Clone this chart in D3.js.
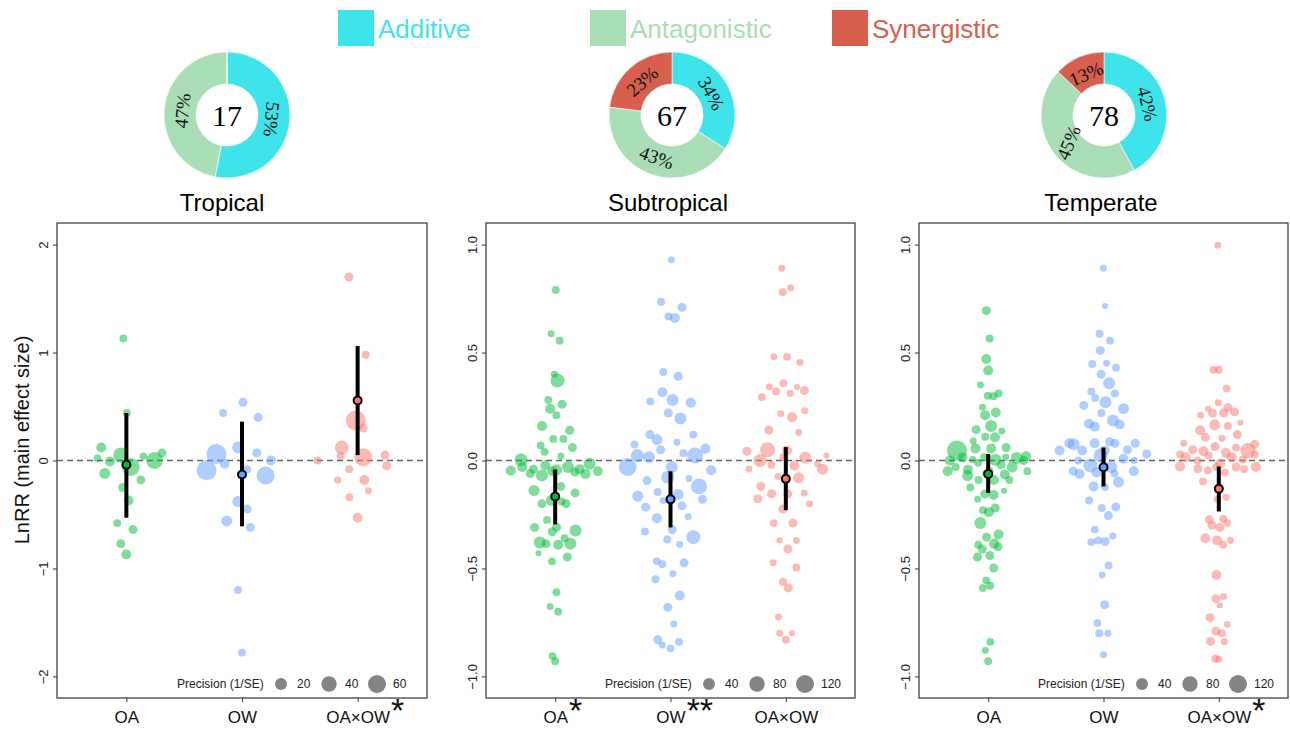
<!DOCTYPE html>
<html>
<head>
<meta charset="utf-8">
<script src="https://cdn.jsdelivr.net/npm/d3@7"></script>
<style>
  body { margin: 0; background: #fff; }
  svg { font-family: "Liberation Sans", Arial, Helvetica, sans-serif; }
</style>
</head>
<body>
<svg id="chart" width="1290" height="729"></svg>
<script>
// ---- data ----
const categories = ["OA", "OW", "OA×OW"];
const regions = ["Tropical", "Subtropical", "Temperate"];
const interactionTypes = ["Additive", "Antagonistic", "Synergistic"];
const studyCounts = [17, 67, 78];

const tropicalShares = [53, 47, 0];
const subtropicalShares = [34, 43, 23];
const temperateShares = [42, 45, 13];

const tropicalTicks = [-2, -1, 0, 1, 2];
const subtropicalTicks = [-1, -0.5, 0, 0.5, 1];
const temperateTicks = [-1, -0.5, 0, 0.5, 1];

const tropicalLegend = [20, 40, 60];
const subtropicalLegend = [40, 80, 120];
const temperateLegend = [40, 80, 120];

const tropicalStars = ["", "", "*"];
const subtropicalStars = ["*", "**", ""];
const temperateStars = ["", "", "*"];

// mean and 95% CI per category
const tropicalMeans = [-0.04, -0.13, 0.555];
const tropicalLow = [-0.53, -0.61, 0.05];
const tropicalHigh = [0.44, 0.36, 1.06];
const subtropicalMeans = [-0.167, -0.18, -0.085];
const subtropicalLow = [-0.296, -0.31, -0.23];
const subtropicalHigh = [-0.042, -0.05, 0.062];
const temperateMeans = [-0.062, -0.031, -0.131];
const temperateLow = [-0.15, -0.12, -0.236];
const temperateHigh = [0.03, 0.06, -0.028];

// individual effect sizes: [LnRR, precision (1/SE)]
const tropicalOA = [[1.13,5],[0.44,5],[0.02,5],[0.0,50],[0.07,8],[-0.06,60],[0.05,38],[0.12,11],[-0.01,11],[0.04,4],
  [-0.12,15],[-0.18,8],[-0.25,8],[-0.37,11],[-0.58,5],[-0.64,8],[-0.77,8],[-0.87,11]];
const tropicalOW = [[0.44,5],[0.54,8],[0.40,8],[0.12,20],[0.06,78],[0.07,8],[-0.03,11],[-0.09,78],[-0.08,5],[0.0,11],
  [-0.14,60],[-0.38,15],[-0.45,8],[-0.56,15],[-0.62,8],[-1.20,5],[-1.78,5]];
const tropicalOAOW = [[1.70,8],[0.98,5],[0.37,78],[0.30,8],[0.12,30],[0.04,5],[0.03,60],[0.05,8],[0.0,5],[-0.05,8],
  [-0.08,5],[-0.18,4],[-0.18,11],[-0.28,3],[-0.34,5],[-0.53,11]];

const subtropicalOA = [[0.79,10],[0.587,6],[0.555,10],[0.37,62],[0.40,6],[0.26,16],[0.28,10],[0.24,23],[0.21,10],[0.16,23],
  [0.14,16],[0.10,10],[0.10,10],[0.06,16],[0.07,10],[0.04,10],[0.02,6],
  [-0.046,23],[-0.062,23],[-0.043,31],[-0.05,23],[-0.03,23],[-0.04,16],[-0.054,16],[-0.04,23],[-0.023,23],[-0.015,40],
  [0.003,50],[-0.03,40],[-0.07,40],[-0.06,16],[-0.05,23],
  [-0.139,31],[-0.12,16],[-0.15,16],[-0.185,31],[-0.2,16],[-0.2,16],[-0.19,10],[-0.275,10],[-0.324,40],[-0.31,16],
  [-0.31,16],[-0.33,16],[-0.385,16],[-0.39,23],[-0.385,40],[-0.38,40],[-0.36,10],[-0.43,3],[-0.447,16],[-0.467,10],
  [-0.61,10],[-0.676,6],[-0.70,10],[-0.906,10],[-0.93,10]];
const subtropicalOW = [[0.93,6],[0.735,10],[0.71,16],[0.667,10],[0.66,23],[0.41,10],[0.39,16],[0.316,23],[0.273,10],[0.268,23],
  [0.28,40],[0.22,16],[0.194,40],[0.12,10],[0.12,16],[0.097,31],[0.074,10],[0.085,6],[0.05,16],[0.034,10],
  [0.015,40],[0.023,88],[0.023,50],[-0.03,120],[-0.03,40],[-0.045,23],[-0.077,50],[0.055,23],[-0.083,6],[-0.093,16],
  [-0.12,88],[-0.157,31],[-0.165,31],[-0.146,10],[-0.18,16],[-0.185,6],[-0.21,16],[-0.216,16],[-0.267,23],[-0.26,6],
  [-0.32,16],[-0.329,10],[-0.355,62],[-0.366,10],[-0.389,6],[-0.466,10],[-0.48,10],[-0.474,16],[-0.525,6],[-0.55,10],
  [-0.625,23],[-0.68,16],[-0.757,6],[-0.83,16],[-0.855,6],[-0.87,10],[-0.84,10]];
const subtropicalOAOW = [[0.89,6],[0.80,6],[0.78,10],[0.48,6],[0.48,10],[0.454,6],[0.358,10],[0.34,6],[0.34,3],[0.31,6],
  [0.324,16],[0.32,10],[0.293,10],[0.23,6],[0.216,6],[0.20,23],[0.13,6],[0.14,16],[0.046,23],[0.05,75],
  [0.043,16],[0.023,3],[0.013,40],[0.015,10],[0.0,50],[-0.023,23],[-0.02,10],[-0.039,6],[-0.04,31],[-0.074,6],
  [-0.015,6],[-0.08,31],[-0.12,16],[-0.15,6],[-0.155,16],[-0.154,16],[-0.177,16],[-0.2,6],[-0.225,16],[-0.29,10],
  [-0.29,16],[-0.37,3],[-0.37,6],[-0.41,16],[-0.474,6],[-0.495,10],[-0.563,10],[-0.59,16],[-0.725,6],[-0.8,6],
  [-0.8,3],[-0.83,10]];

const temperateOA = [[0.694,16],[0.565,10],[0.47,23],[0.417,23],[0.35,6],[0.31,10],[0.298,10],[0.30,10],[0.247,6],[0.222,23],
  [0.21,23],[0.143,16],[0.16,40],[0.137,6],[0.11,10],[0.108,23],[0.09,6],[0.056,23],[0.06,16],[0.056,23],
  [0.046,156],[0.015,6],[0.014,23],[0.005,6],[0.015,10],[0.003,40],[0.012,40],[0.0,16],[0.02,23],[-0.02,16],
  [0.0,23],[-0.03,31],[-0.03,10],[-0.05,10],[-0.05,23],[-0.05,10],[-0.06,6],[-0.09,23],[-0.09,10],[-0.043,23],
  [-0.065,23],[-0.07,31],[-0.01,10],[-0.09,10],[-0.14,3],[-0.125,10],[-0.16,23],[-0.155,16],[-0.18,6],[-0.22,16],
  [-0.23,10],[-0.24,23],[-0.29,40],[-0.343,23],[-0.355,16],[-0.40,16],[-0.385,23],[-0.39,10],[-0.41,16],[-0.447,16],
  [-0.44,16],[-0.498,16],[-0.555,10],[-0.58,10],[-0.59,10],[-0.84,10],[-0.88,6],[-0.93,10]];
const temperateOW = [[0.89,6],[0.716,3],[0.587,10],[0.555,10],[0.51,16],[0.447,10],[0.43,10],[0.45,6],[0.40,16],[0.358,40],
  [0.32,10],[0.31,10],[0.29,10],[0.27,40],[0.24,31],[0.255,16],[0.22,10],[0.185,40],[0.157,23],[0.17,23],
  [0.167,23],[0.08,16],[0.075,40],[0.08,23],[0.087,16],[0.08,16],[0.08,23],[0.046,23],[0.046,23],[0.05,16],
  [0.046,23],[0.008,23],[0.023,62],[0.03,16],[0.0,6],[0.0,10],[-0.023,62],[-0.03,40],[-0.05,23],[-0.062,23],
  [-0.1,31],[-0.055,23],[-0.05,16],[-0.06,10],[-0.123,10],[-0.12,23],[-0.185,10],[-0.22,10],[-0.215,16],[-0.255,16],
  [-0.32,10],[-0.35,6],[-0.378,10],[-0.375,16],[-0.37,10],[-0.486,10],[-0.53,6],[-0.668,16],[-0.753,10],[-0.8,10],
  [-0.8,6],[-0.9,6]];
const temperateOAOW = [[0.997,6],[0.42,10],[0.42,10],[0.333,10],[0.267,6],[0.245,16],[0.24,3],[0.22,16],[0.225,16],[0.22,16],
  [0.21,6],[0.165,31],[0.175,3],[0.16,10],[0.14,23],[0.12,16],[0.108,16],[0.103,6],[0.08,6],[0.065,16],
  [0.06,10],[0.075,16],[0.046,75],[0.05,16],[0.043,23],[0.028,10],[0.036,23],[0.028,10],[0.023,10],[0.015,23],
  [0.015,23],[0.005,10],[-0.028,23],[0.0,10],[-0.04,10],[-0.015,23],[-0.03,16],[-0.03,10],[-0.03,23],[-0.046,10],
  [-0.038,16],[-0.056,10],[-0.097,10],[-0.17,6],[-0.18,6],[-0.274,16],[-0.31,16],[-0.27,10],[-0.29,10],[-0.3,16],
  [-0.37,23],[-0.36,23],[-0.37,6],[-0.39,10],[-0.53,23],[-0.64,16],[-0.63,6],[-0.67,3],[-0.728,16],[-0.76,6],
  [-0.79,16],[-0.8,10],[-0.838,16],[-0.84,6],[-0.918,10],[-0.92,6]];

// ---- setup ----
const catColors = ["#00BA38", "#619CFF", "#F8766D"];
const typeColors = ["#3FE4EA", "#A8DDB5", "#D6604D"];

const panels = [
  {points: [tropicalOA, tropicalOW, tropicalOAOW], means: tropicalMeans, lo: tropicalLow, hi: tropicalHigh,
   stars: tropicalStars, ticks: tropicalTicks, domain: [-2.2, 2.2], legend: tropicalLegend, shares: tropicalShares, fmt: d3.format("d")},
  {points: [subtropicalOA, subtropicalOW, subtropicalOAOW], means: subtropicalMeans, lo: subtropicalLow, hi: subtropicalHigh,
   stars: subtropicalStars, ticks: subtropicalTicks, domain: [-1.1, 1.1], legend: subtropicalLegend, shares: subtropicalShares, fmt: d3.format(".1f")},
  {points: [temperateOA, temperateOW, temperateOAOW], means: temperateMeans, lo: temperateLow, hi: temperateHigh,
   stars: temperateStars, ticks: temperateTicks, domain: [-1.1, 1.1], legend: temperateLegend, shares: temperateShares, fmt: d3.format(".1f")}
];

const layout = [
  {left: 57, right: 427, titleX: 222, donutX: 227},
  {left: 486, right: 855, titleX: 668, donutX: 672},
  {left: 919, right: 1288, titleX: 1101, donutX: 1104}
];
const plotTop = 223, plotBottom = 698, donutY = 115;

const svg = d3.select("#chart");

// top legend
const legX = [338, 590, 832];
interactionTypes.forEach((t, i) => {
  svg.append("rect").attr("x", legX[i]).attr("y", 10).attr("width", 36).attr("height", 36).attr("fill", typeColors[i]);
  svg.append("text").attr("x", legX[i] + 40).attr("y", 38).attr("font-size", 26)
    .attr("fill", typeColors[i]).text(t);
});

// y label
svg.append("text")
  .attr("transform", "translate(29,440) rotate(-90)")
  .attr("text-anchor", "middle").attr("font-size", 20).attr("fill", "#111")
  .text("LnRR (main effect size)");

function labelAngle(a) {
  // tangent orientation, flipped so the labels stay readable
  if (a > 180 && a < 215) return a - 180;
  if (a >= 215 && a < 250) return a - 300;
  if (a >= 250) return a - 360;
  return a;
}

// quasirandom spread (van der Corput sequence scaled by a kernel density),
// same idea as ggbeeswarm::geom_quasirandom
function vdc(k) {
  let v = 0, denom = 1;
  while (k > 0) { denom *= 2; v += (k % 2) / denom; k = Math.floor(k / 2); }
  return v;
}
function quasiOffsets(vals) {
  const n = vals.length;
  const sorted = vals.slice().sort(d3.ascending);
  const sd = d3.deviation(vals);
  const iqr = d3.quantile(sorted, 0.75) - d3.quantile(sorted, 0.25);
  let bw = 0.9 * Math.min(sd, iqr / 1.34 || sd) * Math.pow(n, -0.2) * 0.5;
  const dens = vals.map(v => d3.sum(vals, w => Math.exp(-0.5 * ((v - w) / bw) ** 2)));
  const maxD = d3.max(dens);
  const order = d3.range(n).sort((a, b) => vals[a] - vals[b]);
  const rank = new Array(n);
  order.forEach((idx, r) => rank[idx] = r + 1);
  return vals.map((v, i) => (vdc(rank[i]) - 0.5) * 2 * dens[i] / maxD);
}

panels.forEach((p, pi) => {
  const L = layout[pi];
  const g = svg.append("g");

  const x = d3.scalePoint().domain(categories).range([L.left, L.right]).padding(0.6);
  const y = d3.scaleLinear().domain(p.domain).range([plotBottom, plotTop]);
  const size = d3.scaleSqrt().domain([p.legend[0], p.legend[2]]).range([6, 9]);
  const halfWidth = 0.4 * x.step();

  // title
  g.append("text").attr("x", L.titleX).attr("y", 211).attr("text-anchor", "middle")
    .attr("font-size", 24).attr("fill", "#000").text(regions[pi]);

  // donut
  const pie = d3.pie().sort(null).value(d => d)(p.shares);
  const arc = d3.arc().innerRadius(31).outerRadius(63);
  const labelArc = d3.arc().innerRadius(45).outerRadius(45);
  const dg = g.append("g").attr("transform", `translate(${L.donutX},${donutY})`);
  dg.selectAll("path").data(pie).enter().append("path")
    .attr("d", arc).attr("fill", (d, i) => typeColors[i]).attr("stroke", "#fff").attr("stroke-width", 0.6);
  dg.selectAll("text.pct").data(pie.filter(d => d.value > 0)).enter().append("text")
    .attr("class", "pct")
    .attr("transform", d => {
      const c = labelArc.centroid(d);
      const a = (d.startAngle + d.endAngle) / 2 * 180 / Math.PI;
      return `translate(${c[0]},${c[1]}) rotate(${labelAngle(a)})`;
    })
    .attr("text-anchor", "middle").attr("dy", "0.35em")
    .style("font-family", "'Liberation Serif', 'Times New Roman', serif")
    .attr("font-size", 19).attr("fill", "#111")
    .text(d => d.value + "%");
  dg.append("text").attr("text-anchor", "middle").attr("dy", "0.35em")
    .style("font-family", "'Liberation Serif', 'Times New Roman', serif")
    .attr("font-size", 30).attr("fill", "#000").text(studyCounts[pi]);

  // axes
  const ya = g.append("g").attr("transform", `translate(${L.left},0)`)
    .call(d3.axisLeft(y).tickValues(p.ticks).tickSize(4).tickFormat(p.fmt));
  ya.select(".domain").remove();
  ya.selectAll(".tick line").attr("stroke", "#333");
  ya.selectAll(".tick text")
    .attr("transform", "rotate(-90)").attr("x", 0).attr("y", -9).attr("dy", 0)
    .style("text-anchor", "middle").attr("font-size", 13).attr("fill", "#222")
    .style("font-family", "'Liberation Sans', Arial, sans-serif");

  const xa = g.append("g").attr("transform", `translate(0,${plotBottom})`)
    .call(d3.axisBottom(x).tickSize(4));
  xa.select(".domain").remove();
  xa.selectAll(".tick line").attr("stroke", "#333");
  xa.selectAll(".tick text").attr("y", 25).attr("dy", 0).attr("font-size", 17).attr("fill", "#111")
    .style("font-family", "'Liberation Sans', Arial, sans-serif");
  xa.selectAll(".tick").each(function(d, i) {
    const star = p.stars[i];
    if (!star) return;
    const tnode = d3.select(this).select("text").node();
    const w = tnode.getComputedTextLength();
    d3.select(this).append("text").attr("x", w / 2 + 1).attr("y", 24)
      .attr("font-size", 34).attr("fill", "#111").attr("text-anchor", "start")
      .style("font-family", "'Liberation Sans', Arial, sans-serif")
      .text(star);
  });

  // zero line
  g.append("line").attr("x1", L.left).attr("x2", L.right).attr("y1", y(0)).attr("y2", y(0))
    .attr("stroke", "#666").attr("stroke-width", 1.3).attr("stroke-dasharray", "6,4");

  // points
  p.points.forEach((pts, ci) => {
    const cx = x(categories[ci]);
    const offs = quasiOffsets(pts.map(d => d[0]));
    g.append("g").selectAll("circle").data(pts).enter().append("circle")
      .attr("cx", (d, i) => cx + offs[i] * halfWidth).attr("cy", d => y(d[0])).attr("r", d => size(d[1]))
      .attr("fill", catColors[ci]).attr("fill-opacity", 0.5);
  });

  // CI bars and means
  categories.forEach((c, ci) => {
    g.append("line").attr("x1", x(c)).attr("x2", x(c))
      .attr("y1", y(p.lo[ci])).attr("y2", y(p.hi[ci]))
      .attr("stroke", "#000").attr("stroke-width", 4);
    g.append("circle").attr("cx", x(c)).attr("cy", y(p.means[ci])).attr("r", 4)
      .attr("fill", catColors[ci]).attr("stroke", "#000").attr("stroke-width", 2);
  });

  // frame
  g.append("rect").attr("x", L.left).attr("y", plotTop).attr("width", L.right - L.left).attr("height", plotBottom - plotTop)
    .attr("fill", "none").attr("stroke", "#333").attr("stroke-width", 1.2);

  // precision legend
  const lx = L.right - 250, ly = 684;
  g.append("text").attr("x", lx).attr("y", ly + 4).attr("font-size", 12).attr("fill", "#222")
    .text("Precision (1/SE)");
  p.legend.forEach((v, k) => {
    const cxl = lx + 104 + 48 * k;
    g.append("circle").attr("cx", cxl).attr("cy", ly).attr("r", size(v))
      .attr("fill", "#6e6e6e").attr("fill-opacity", 0.85);
    g.append("text").attr("x", cxl + 16).attr("y", ly + 4).attr("font-size", 12).attr("fill", "#222").text(v);
  });
});
</script>
</body>
</html>
